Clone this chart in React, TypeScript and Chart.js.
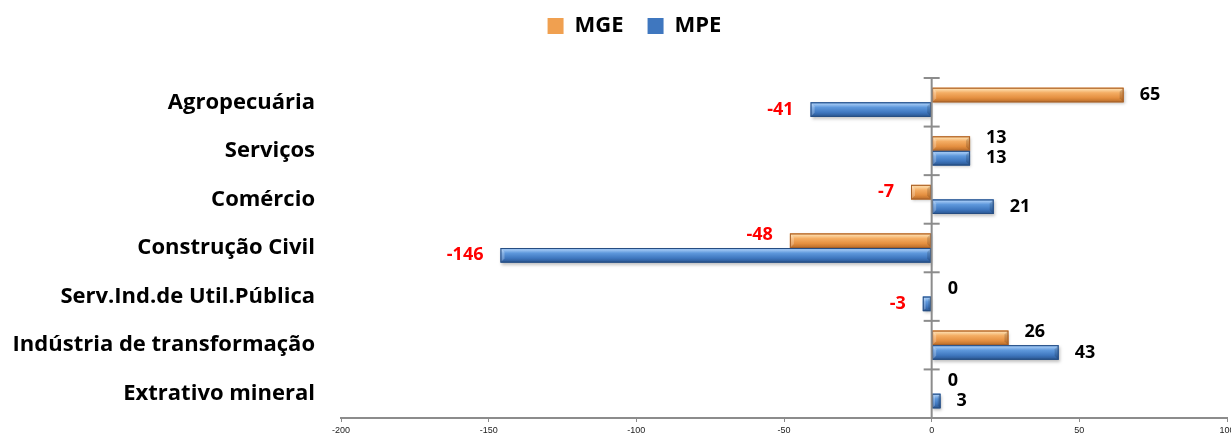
import React, { useEffect, useRef } from "react";
import { Chart, registerables } from "chart.js";

Chart.register(...registerables);

const categories = [
  "Agropecuária",
  "Serviços",
  "Comércio",
  "Construção Civil",
  "Serv.Ind.de Util.Pública",
  "Indústria de transformação",
  "Extrativo mineral",
];
const mgeValues = [65, 13, -7, -48, 0, 26, 0];
const mpeValues = [-41, 13, 21, -146, -3, 43, 3];
const xTicks = [-200, -150, -100, -50, 0, 50, 100];

const FONT = "'Open Sans', 'Liberation Sans', sans-serif";

const palettes: Record<number, { stops: [number, string][]; border: string }> = {
  0: {
    stops: [
      [0, "#e9984c"],
      [0.12, "#fcd7a4"],
      [0.35, "#f4ad63"],
      [0.7, "#e48f40"],
      [1, "#b66a28"],
    ],
    border: "#a9622a",
  },
  1: {
    stops: [
      [0, "#5a92d8"],
      [0.12, "#9fc6f3"],
      [0.35, "#5e98dc"],
      [0.7, "#3f77bf"],
      [1, "#29548e"],
    ],
    border: "#264d82",
  },
};

const bevelBars = {
  id: "bevelBars",
  afterDatasetsDraw(chart: any) {
    const ctx = chart.ctx;
    chart.data.datasets.forEach((ds: any, di: number) => {
      const meta = chart.getDatasetMeta(di);
      const pal = palettes[di];
      meta.data.forEach((el: any) => {
        const { x, y, base, height } = el.getProps(["x", "y", "base", "height"], true);
        const left = Math.min(x, base);
        const right = Math.max(x, base);
        if (right - left < 0.5) return;
        const top = y - height / 2;
        const bottom = y + height / 2;
        ctx.save();
        ctx.shadowColor = "rgba(0,0,0,0.25)";
        ctx.shadowBlur = 3;
        ctx.shadowOffsetY = 2;
        ctx.shadowOffsetX = 1;
        const g = ctx.createLinearGradient(0, top, 0, bottom);
        pal.stops.forEach(([o, c]) => g.addColorStop(o, c));
        ctx.fillStyle = g;
        ctx.fillRect(left, top, right - left, height);
        ctx.restore();
        ctx.save();
        const bev = Math.min(4, (right - left) / 3);
        ctx.fillStyle = "rgba(255,255,255,0.25)";
        ctx.beginPath();
        ctx.moveTo(left, top);
        ctx.lineTo(left + bev, top + bev);
        ctx.lineTo(left + bev, bottom - bev);
        ctx.lineTo(left, bottom);
        ctx.closePath();
        ctx.fill();
        ctx.fillStyle = "rgba(0,0,0,0.15)";
        ctx.beginPath();
        ctx.moveTo(right, top);
        ctx.lineTo(right - bev, top + bev);
        ctx.lineTo(right - bev, bottom - bev);
        ctx.lineTo(right, bottom);
        ctx.closePath();
        ctx.fill();
        ctx.strokeStyle = pal.border;
        ctx.lineWidth = 1;
        ctx.strokeRect(left + 0.5, top + 0.5, right - left - 1, height - 1);
        ctx.restore();
      });
    });
  },
};

const axisAndLabels = {
  id: "axisAndLabels",
  beforeInit(chart: any) {
    const legend = chart.legend;
    if (legend) {
      const origFit = legend.fit;
      legend.fit = function () {
        origFit.call(this);
        this.height = 78;
      };
      const origDraw = legend.draw;
      legend.draw = function () {
        const c = this.ctx;
        c.save();
        c.translate(19, -9);
        origDraw.call(this);
        c.restore();
      };
    }
  },
  afterDatasetsDraw(chart: any) {
    const ctx = chart.ctx;
    const xs = chart.scales.x;
    const area = chart.chartArea;
    const x0 = xs.getPixelForValue(0);
    ctx.save();
    ctx.strokeStyle = "#8c8c8c";
    ctx.lineWidth = 2;
    ctx.beginPath();
    ctx.moveTo(x0, area.top);
    ctx.lineTo(x0, area.bottom);
    ctx.stroke();
    const n = categories.length;
    const step = (area.bottom - area.top) / n;
    for (let i = 0; i <= n; i++) {
      const yy = area.top + i * step;
      ctx.beginPath();
      ctx.moveTo(x0 - 8, yy);
      ctx.lineTo(x0 + 8, yy);
      ctx.stroke();
    }
    ctx.restore();

    ctx.save();
    ctx.font = `bold 18px ${FONT}`;
    ctx.textBaseline = "middle";
    chart.data.datasets.forEach((ds: any, di: number) => {
      const meta = chart.getDatasetMeta(di);
      meta.data.forEach((el: any, i: number) => {
        const v = ds.data[i];
        const other = di === 0 ? mpeValues[i] : mgeValues[i];
        const sameSide = (v >= 0) === (other >= 0);
        const dy = di === 0 && sameSide ? -6 : 0;
        const { x, y, base } = el.getProps(["x", "y", "base"], true);
        if (v >= 0) {
          ctx.fillStyle = "#000000";
          ctx.textAlign = "left";
          ctx.fillText(String(v), Math.max(x, base) + 16, y + dy);
        } else {
          ctx.fillStyle = "#ff0000";
          ctx.textAlign = "right";
          ctx.fillText(String(v), Math.min(x, base) - 17, y + dy);
        }
      });
    });
    ctx.restore();
  },
};

export default function App() {
  const ref = useRef<HTMLCanvasElement | null>(null);
  useEffect(() => {
    if (!ref.current) return;
    const chart = new Chart(ref.current, {
      type: "bar",
      data: {
        labels: categories,
        datasets: [
          {
            label: "MGE",
            data: mgeValues,
            backgroundColor: "#f0a050",
            borderColor: "#a9622a",
            borderWidth: 0,
            categoryPercentage: 0.6,
            barPercentage: 1,
          },
          {
            label: "MPE",
            data: mpeValues,
            backgroundColor: "#3f77bf",
            borderColor: "#264d82",
            borderWidth: 0,
            categoryPercentage: 0.6,
            barPercentage: 1,
          },
        ],
      },
      options: {
        indexAxis: "y",
        animation: false,
        responsive: true,
        maintainAspectRatio: false,
        layout: { padding: { top: 0, left: 0, right: 0, bottom: 0 } },
        plugins: {
          legend: {
            position: "top",
            align: "center",
            labels: {
              boxWidth: 16,
              boxHeight: 16,
              padding: 24,
              color: "#000000",
              font: { family: FONT, size: 22, weight: "bold" },
            },
          },
          tooltip: { enabled: false },
        },
        scales: {
          x: {
            min: -200,
            max: 100,
            afterBuildTicks(scale: any) {
              scale.ticks = xTicks.map((v) => ({ value: v }));
            },
            afterFit(scale: any) {
              scale.height = 18;
              scale.paddingLeft = 0;
              scale.paddingRight = 4;
            },
            grid: {
              drawOnChartArea: false,
              drawTicks: true,
              tickLength: 4,
              color: "#8c8c8c",
            },
            border: { display: true, color: "#8c8c8c", width: 2 },
            ticks: {
              color: "#222222",
              font: { family: "'Liberation Sans Narrow', 'Liberation Sans', sans-serif", size: 9 },
              padding: 3,
              maxRotation: 0,
            },
          },
          y: {
            afterFit(scale: any) {
              scale.width = 341;
              scale.paddingTop = 0;
              scale.paddingBottom = 0;
            },
            grid: { display: false, drawTicks: false },
            border: { display: false },
            ticks: {
              color: "#000000",
              padding: 26,
              font: { family: FONT, size: 22, weight: "bold" },
            },
          },
        },
      },
      plugins: [bevelBars, axisAndLabels],
    });
    return () => chart.destroy();
  }, []);
  return (
    <div style={{ position: "fixed", left: 0, top: 0, width: 1231, height: 436 }}>
      <canvas ref={ref} />
    </div>
  );
}
